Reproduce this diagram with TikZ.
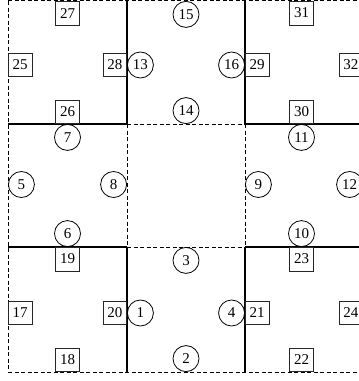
\documentclass[tikz,border=0pt]{standalone}
\usepackage{fontspec}
\setmainfont{Liberation Serif}
\begin{document}
\begin{tikzpicture}[x=1pt,y=-1pt,
  solidln/.style={line width=1.6pt},
  dashln/.style={line width=0.8pt, dash pattern=on 4pt off 2.5pt},
  lbl/.style={font=\fontsize{15}{15}\selectfont, inner sep=0pt},
  cnode/.style={lbl, draw, circle, line width=0.8pt, minimum size=26pt},
  bnode/.style={lbl, draw=black!85, rectangle, line width=0.7pt, minimum size=23.5pt}]
\useasboundingbox (0,0) rectangle (359,381);
\clip (0,0) rectangle (359,381);
% dashed lines
\draw[dashln] (8,1) -- (8,372);
\draw[dashln] (8,0.8) -- (363,0.8);
\draw[dashln] (8,372) -- (363,372);
\draw[dashln] (127,124) -- (127,247);
\draw[dashln] (245,124) -- (245,247);
\draw[dashln] (127,124) -- (245,124);
\draw[dashln] (127,247) -- (245,247);
% solid lines
\draw[solidln] (127,1) -- (127,124);
\draw[solidln] (245,1) -- (245,124);
\draw[solidln] (127,247) -- (127,372);
\draw[solidln] (245,247) -- (245,372);
\draw[solidln] (8,124) -- (127,124);
\draw[solidln] (245,124) -- (363,124);
\draw[solidln] (8,247) -- (127,247);
\draw[solidln] (245,247) -- (363,247);
% top-left
\node[bnode, anchor=west]  (n25) at (8,65) {25};
\node[bnode, anchor=east]  (n28) at (127,65) {28};
\node[bnode, anchor=north] (n27) at (67.5,1) {27};
\node[bnode, anchor=south] (n26) at (67.5,124) {26};
% top-middle
\node[cnode, anchor=west]  (n13) at (127,65) {13};
\node[cnode, anchor=east]  (n16) at (245,65) {16};
\node[cnode, anchor=north] (n15) at (186,1) {15};
\node[cnode, anchor=south] (n14) at (186,124) {14};
% top-right
\node[bnode, anchor=west]  (n29) at (245,65) {29};
\node[bnode, anchor=east]  (n32) at (363,65) {32};
\node[bnode, anchor=north] (n31) at (301.5,1) {31};
\node[bnode, anchor=south] (n30) at (301.5,124) {30};
% middle-left
\node[cnode, anchor=west]  (n5) at (8,184.5) {5};
\node[cnode, anchor=east]  (n8) at (127,184.5) {8};
\node[cnode, anchor=north] (n7) at (67.5,124) {7};
\node[cnode, anchor=south] (n6) at (67.5,247) {6};
% middle-right
\node[cnode, anchor=west]  (n9) at (245,184.5) {9};
\node[cnode, anchor=east]  (n12) at (363,184.5) {12};
\node[cnode, anchor=north] (n11) at (301.5,124) {11};
\node[cnode, anchor=south] (n10) at (301.5,247) {10};
% bottom-left
\node[bnode, anchor=west]  (n17) at (8,313) {17};
\node[bnode, anchor=east]  (n20) at (127,313) {20};
\node[bnode, anchor=north] (n19) at (67.5,247) {19};
\node[bnode, anchor=south] (n18) at (67.5,372) {18};
% bottom-middle
\node[cnode, anchor=west]  (n1) at (127,313) {1};
\node[cnode, anchor=east]  (n4) at (245,313) {4};
\node[cnode, anchor=north] (n3) at (186,247) {3};
\node[cnode, anchor=south] (n2) at (186,372) {2};
% bottom-right
\node[bnode, anchor=west]  (n21) at (245,313) {21};
\node[bnode, anchor=east]  (n24) at (363,313) {24};
\node[bnode, anchor=north] (n23) at (301.5,247) {23};
\node[bnode, anchor=south] (n22) at (301.5,372) {22};
\end{tikzpicture}
\end{document}
